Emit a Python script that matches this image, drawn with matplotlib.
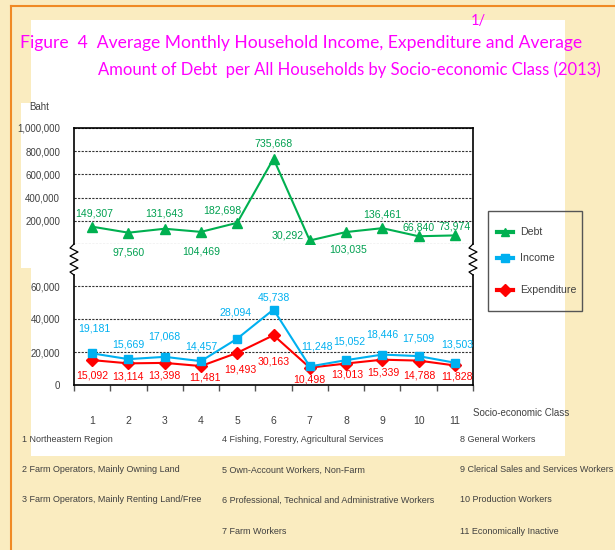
import matplotlib
matplotlib.use("Agg")
import matplotlib.pyplot as plt
from matplotlib import font_manager
from matplotlib.lines import Line2D
from matplotlib.patches import Rectangle

# ---------------- data ----------------
classes = [1, 2, 3, 4, 5, 6, 7, 8, 9, 10, 11]
debt = [149307, 97560, 131643, 104469, 182698, 735668, 30292, 103035, 136461, 66840, 73974]
income = [19181, 15669, 17068, 14457, 28094, 45738, 11248, 15052, 18446, 17509, 13503]
expenditure = [15092, 13114, 13398, 11481, 19493, 30163, 10498, 13013, 15339, 14788, 11828]
debt_ticks = [200000, 400000, 600000, 800000, 1000000]
low_ticks = [0, 20000, 40000, 60000]
class_names = [
    "1 Northeastern Region",
    "2 Farm Operators, Mainly Owning Land",
    "3 Farm Operators, Mainly Renting Land/Free",
    "4 Fishing, Forestry, Agricultural Services",
    "5 Own-Account Workers, Non-Farm",
    "6 Professional, Technical and Administrative Workers",
    "7 Farm Workers",
    "8 General Workers",
    "9 Clerical Sales and Services Workers",
    "10 Production Workers",
    "11 Economically Inactive",
]
title1 = "Figure  4  Average Monthly Household Income, Expenditure and Average"
title2 = "Amount of Debt  per All Households by Socio-economic Class (2013)"

# ---------------- style ----------------
names = {f.name for f in font_manager.fontManager.ttflist}
NARROW = "Liberation Sans Narrow" if "Liberation Sans Narrow" in names else "Liberation Sans"
TITLEF = "Lato" if "Lato" in names else "DejaVu Sans"
GREEN, BLUE, RED = "#00B050", "#00B0F0", "#FF0000"
CREAM, ORANGE, GRAY = "#FAECC0", "#F08A24", "#404040"

W, H = 615, 550
fig = plt.figure(figsize=(W / 100, H / 100), dpi=100)
fig.patch.set_facecolor(CREAM)


def fx(x):
    return x / W


def fy(y):
    return 1 - y / H


def frect(x0, y0, x1, y1):
    return [fx(x0), fy(y1), fx(x1) - fx(x0), fy(y0) - fy(y1)]


# background decorations
fig.add_artist(Rectangle((fx(31), fy(456)), fx(565) - fx(31), fy(20) - fy(456),
                         transform=fig.transFigure, facecolor="white", edgecolor="none", zorder=0))
fig.add_artist(Rectangle((fx(21), fy(268)), fx(31) - fx(21), fy(103) - fy(268),
                         transform=fig.transFigure, facecolor="white", edgecolor="none", zorder=0))
fig.add_artist(Line2D([fx(11), fx(11)], [fy(6), 0], transform=fig.transFigure, color=ORANGE, lw=1.5))
fig.add_artist(Line2D([fx(11), 1], [fy(6), fy(6)], transform=fig.transFigure, color=ORANGE, lw=1.5))

# titles
fig.text(fx(20), fy(43), title1, color="#FF00FF", fontsize=12.6, family=TITLEF, va="center", ha="left")
fig.text(fx(98), fy(70), title2, color="#FF00FF", fontsize=12.0, family=TITLEF, va="center", ha="left")
fig.text(fx(471), fy(21), "1/", color="#FF00FF", fontsize=10.5, family=TITLEF, va="center", ha="left")

XL, XR = 74, 473
LBL = 7.6
# ---------------- top panel (debt) ----------------
ax1 = fig.add_axes(frect(XL, 128, XR, 244))
ax1.set_facecolor("none")
ax1.set_xlim(0.5, 11.5)
ax1.set_ylim(0, 1000000)
ax1.plot(classes, debt, color=GREEN, lw=1.5, marker="^", ms=7, zorder=3)
ax1.spines["bottom"].set_visible(False)
for s in ["left", "right", "top"]:
    ax1.spines[s].set_color("black")
    ax1.spines[s].set_linewidth(1.2)
ax1.set_xticks([])
ax1.set_yticks(debt_ticks)
ax1.set_yticklabels([f"{v:,}" for v in debt_ticks], fontsize=7, family=NARROW, color=GRAY)
ax1.tick_params(axis="y", length=0, pad=10)
for v in [0] + debt_ticks:
    ax1.axhline(v, color="#333333", lw=0.8, ls=(0, (2, 1.2)), zorder=1)

debt_off = [(2, 13), (0, -20), (0, 15), (0, -20), (-15, 12), (0, 15), (-22, 5), (2, -17), (0, 14), (0, 9), (0, 9)]
for x, v, (dx, dy) in zip(classes, debt, debt_off):
    ax1.annotate(f"{v:,}", (x, v), xytext=(dx, dy), textcoords="offset pixels",
                 ha="center", va="center", color="#00A050", fontsize=LBL, family=NARROW)

# ---------------- bottom panel ----------------
ax2 = fig.add_axes(frect(XL, 275, XR, 385))
ax2.set_facecolor("none")
ax2.set_xlim(0.5, 11.5)
ax2.set_ylim(0, 20000 * (385 - 275) / 33)
ax2.plot(classes, expenditure, color=RED, lw=1.5, marker="D", ms=6, zorder=3)
ax2.plot(classes, income, color=BLUE, lw=1.5, marker="s", ms=6, zorder=4)
ax2.spines["top"].set_visible(False)
for s in ["left", "right", "bottom"]:
    ax2.spines[s].set_color("black")
    ax2.spines[s].set_linewidth(1.2)
ax2.set_yticks(low_ticks)
ax2.set_yticklabels([f"{v:,}" for v in low_ticks], fontsize=7, family=NARROW, color=GRAY)
ax2.tick_params(axis="y", length=0, pad=10)
for v in low_ticks[1:]:
    ax2.axhline(v, color="#333333", lw=0.8, ls=(0, (2, 1.2)), zorder=1)
ax2.set_xticks(classes)
ax2.set_xticklabels([str(c) for c in classes], fontsize=7.5, family=NARROW, color=GRAY)
ax2.tick_params(axis="x", which="major", length=0, pad=22)
ax2.set_xticks([c + 0.5 for c in [0] + classes], minor=True)
ax2.tick_params(axis="x", which="minor", length=4, width=1, color="#555555", direction="out")
fig.text(fx(473), fy(413), "Socio-economic Class", fontsize=7, family=NARROW, color=GRAY,
         ha="left", va="center")

inc_off = [(2, 25), (0, 15), (0, 20), (0, 15), (-2, 26), (0, 12), (7, 20), (3, 19), (0, 20), (0, 18), (2, 18)]
for x, v, (dx, dy) in zip(classes, income, inc_off):
    ax2.annotate(f"{v:,}", (x, v), xytext=(dx, dy), textcoords="offset pixels",
                 ha="center", va="center", color=BLUE, fontsize=LBL, family=NARROW)
exp_off = [(0, -15), (0, -13), (0, -13), (4, -11), (3, -17), (0, -26), (-1, -12), (1, -11), (1, -13), (1, -15), (2, -11)]
for x, v, (dx, dy) in zip(classes, expenditure, exp_off):
    ax2.annotate(f"{v:,}", (x, v), xytext=(dx, dy), textcoords="offset pixels",
                 ha="center", va="center", color=RED, fontsize=LBL, family=NARROW)

# axis break zigzags
for xb in (XL, XR):
    ys = [244, 248, 252, 256, 260, 264, 268, 272, 275]
    xs = [xb, xb - 4, xb + 4, xb - 4, xb + 4, xb - 4, xb + 4, xb - 4, xb]
    fig.add_artist(Line2D([fx(x) for x in xs], [fy(y) for y in ys], transform=fig.transFigure,
                          color="black", lw=0.9))

# y label
fig.text(fx(29), fy(107), "Baht", fontsize=7, family=NARROW, color=GRAY, ha="left", va="center")

# legend (manual)
fig.add_artist(Rectangle((fx(488), fy(311)), fx(582) - fx(488), fy(211) - fy(311),
                         transform=fig.transFigure, facecolor="none", edgecolor="#555555", lw=1))
for yy, col, mk, lab in [(232, GREEN, "^", "Debt"), (258, BLUE, "s", "Income"), (290, RED, "D", "Expenditure")]:
    fig.add_artist(Line2D([fx(497), fx(513)], [fy(yy), fy(yy)], transform=fig.transFigure,
                          color=col, lw=3))
    fig.add_artist(Line2D([fx(505)], [fy(yy)], transform=fig.transFigure, color=col, marker=mk, ms=6, ls="none"))
    fig.text(fx(520), fy(yy), lab, fontsize=7.6, family=NARROW, color=GRAY, ha="left", va="center")

# class name footnotes
cols = [(22, [0, 1, 2], [440, 470, 500]),
        (222, [3, 4, 5, 6], [440, 470, 500, 532]),
        (460, [7, 8, 9, 10], [440, 470, 500, 532])]
for x0, idxs, ys in cols:
    for i, yy in zip(idxs, ys):
        fig.text(fx(x0), fy(yy), class_names[i], fontsize=6.5, family=NARROW, color=GRAY,
                 ha="left", va="center")

fig.savefig("out.png", dpi=100, facecolor=CREAM)
